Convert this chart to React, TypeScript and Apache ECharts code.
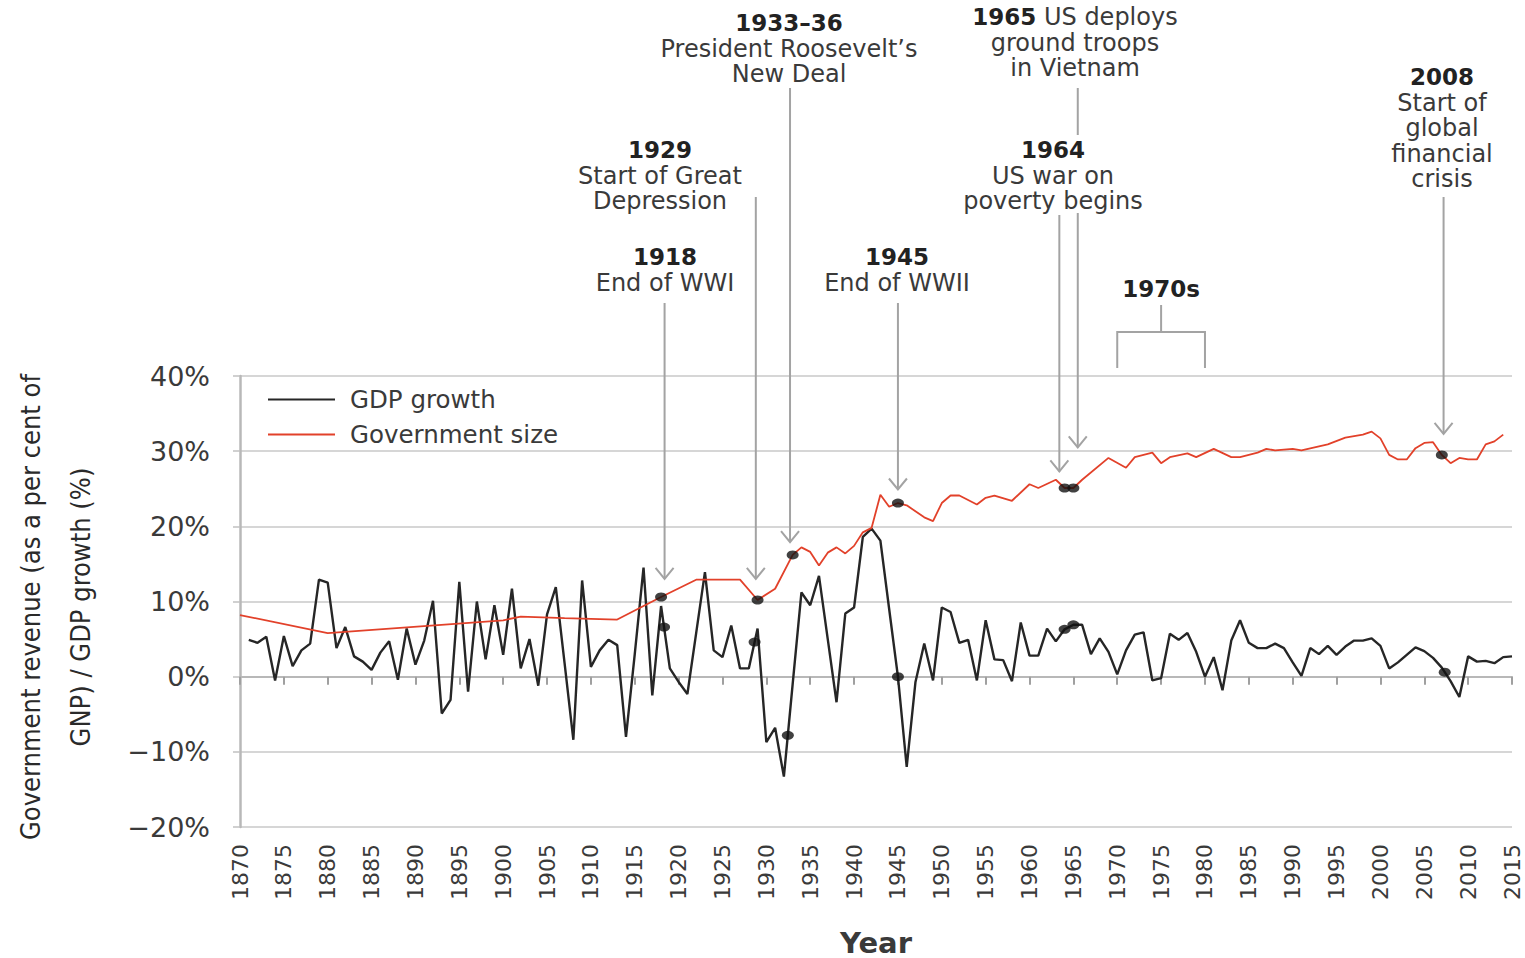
import React, { useEffect, useRef } from 'react';
import * as echarts from 'echarts';

// ---------- data ----------
const gdpYears: number[] = Array.from({ length: 145 }, (_, i) => 1871 + i);
const gdpGrowth: number[] = [
  4.9, 4.5, 5.3, -0.5, 5.4, 1.4, 3.5, 4.4, 12.9, 12.5,
  3.8, 6.6, 2.7, 2.0, 0.9, 3.2, 4.7, -0.4, 6.4, 1.6,
  4.8, 10.1, -4.9, -3.1, 12.6, -2.0, 10.0, 2.3, 9.5, 2.9,
  11.7, 1.1, 5.0, -1.2, 8.3, 11.9, 1.8, -8.4, 12.8, 1.3,
  3.5, 4.9, 4.2, -8.0, 3.0, 14.5, -2.5, 9.4, 1.1, -0.7,
  -2.3, 5.8, 13.9, 3.5, 2.6, 6.8, 1.1, 1.1, 6.4, -8.7,
  -6.8, -13.3, -1.0, 11.2, 9.5, 13.4, 5.0, -3.4, 8.4, 9.2,
  18.6, 19.7, 18.1, 9.0, 0.0, -12.0, -0.7, 4.4, -0.5, 9.2,
  8.6, 4.5, 4.9, -0.5, 7.5, 2.3, 2.2, -0.6, 7.2, 2.8,
  2.8, 6.4, 4.7, 6.3, 6.9, 6.9, 3.0, 5.1, 3.3, 0.3,
  3.5, 5.6, 5.9, -0.5, -0.2, 5.7, 4.9, 5.8, 3.3, 0.0,
  2.6, -1.8, 4.8, 7.5, 4.5, 3.8, 3.8, 4.4, 3.8, 1.9,
  0.1, 3.8, 3.0, 4.1, 2.9, 4.0, 4.8, 4.8, 5.1, 4.1,
  1.1, 1.9, 2.9, 3.9, 3.4, 2.5, 1.2, -0.6, -2.7, 2.7,
  2.0, 2.1, 1.8, 2.6, 2.7,
];

const govYears: number[] = [
  1870, 1880, 1900, 1902, 1907, 1913, 1918, 1922, 1927, 1929, 1931,
  1933, 1934, 1935, 1936, 1937, 1938, 1939, 1940, 1941, 1942, 1943,
  1944, 1945, 1946, 1948, 1949, 1950, 1951, 1952, 1954, 1955, 1956,
  1958, 1960, 1961, 1963, 1964, 1965, 1966, 1969, 1971, 1972, 1974,
  1975, 1976, 1978, 1979, 1981, 1983, 1984, 1986, 1987, 1988, 1990,
  1991, 1994, 1996, 1998, 1999, 2000, 2001, 2002, 2003, 2004, 2005,
  2006, 2007, 2008, 2009, 2010, 2011, 2012, 2013, 2014,
];
const govSize: number[] = [
  8.2, 5.8, 7.5, 8.0, 7.8, 7.6, 10.6, 12.9, 12.9, 10.2, 11.7,
  16.2, 17.2, 16.6, 14.8, 16.5, 17.2, 16.4, 17.4, 19.2, 19.8, 24.2,
  22.6, 23.1, 22.8, 21.2, 20.7, 23.1, 24.1, 24.1, 22.9, 23.8, 24.1,
  23.4, 25.6, 25.1, 26.2, 25.1, 25.1, 26.2, 29.1, 27.8, 29.2, 29.8,
  28.4, 29.2, 29.7, 29.2, 30.3, 29.2, 29.2, 29.8, 30.3, 30.1, 30.3,
  30.1, 30.9, 31.8, 32.2, 32.6, 31.7, 29.5, 28.9, 28.9, 30.4, 31.1,
  31.2, 29.5, 28.4, 29.1, 28.9, 28.9, 30.9, 31.3, 32.2,
];

const gdpMarkYears: number[] = [1918.34, 1928.66, 1932.45, 1945, 1964, 1965, 2007.33];
const gdpMarkValues: number[] = [6.6, 4.6, -7.8, 0.0, 6.3, 6.9, 0.6];
const govMarkYears: number[] = [1918, 1929, 1933, 1945, 1964, 1965, 2007];
const govMarkValues: number[] = [10.6, 10.2, 16.2, 23.1, 25.1, 25.1, 29.5];

const xMin = 1870;
const xMax = 2015;
const xStep = 5;
const yMin = -20;
const yMax = 40;
const yStep = 10;

const seriesNames = ['GDP growth', 'Government size'];
const yAxisTitle = ['Government revenue (as a per cent of', 'GNP) / GDP growth (%)'];
const xAxisTitle = 'Year';

// annotation texts (first line bold via rich text)
const annotations = [
  { lines: ['{b|1933–36}', 'President Roosevelt’s', 'New Deal'], x: 789, y: 23 },
  { lines: ['{b|1965} US deploys', 'ground troops', 'in Vietnam'], x: 1075, y: 17 },
  { lines: ['{b|2008}', 'Start of', 'global', 'financial', 'crisis'], x: 1442, y: 77 },
  { lines: ['{b|1929}', 'Start of Great', 'Depression'], x: 660, y: 150 },
  { lines: ['{b|1964}', 'US war on', 'poverty begins'], x: 1053, y: 150 },
  { lines: ['{b|1918}', 'End of WWI'], x: 665, y: 257 },
  { lines: ['{b|1945}', 'End of WWII'], x: 897, y: 257 },
  { lines: ['{b|1970s}'], x: 1161, y: 289 },
];
// arrows: x in years, start in px, tip as a chart value
const arrows = [
  { year: 1918.4, from: 303, tip: 13.0 },
  { year: 1928.8, from: 197, tip: 13.0 },
  { year: 1932.7, from: 88, tip: 17.9 },
  { year: 1945.0, from: 303, tip: 24.9 },
  { year: 1963.4, from: 215, tip: 27.3 },
  { year: 1965.5, from: 213, tip: 30.5 },
  { year: 2007.2, from: 197, tip: 32.3 },
];
const plainSegments = [{ year: 1965.5, from: 88, to: 135 }];
const bracketYears = [1970, 1975, 1980];

const FONT = "'DejaVu Sans', 'Open Sans', sans-serif";
const TEXT = '#3a3a3a';
const GREY = '#a3a3a3';

export default function App() {
  const ref = useRef<HTMLDivElement>(null);

  useEffect(() => {
    if (!ref.current) return;
    const chart = echarts.init(ref.current, null, { renderer: 'svg' });

    const option: any = {
      animation: false,
      backgroundColor: '#ffffff',
      textStyle: { fontFamily: FONT },
      grid: { left: 240, right: 13, top: 376, bottom: 129, containLabel: false },
      legend: {
        data: seriesNames,
        orient: 'vertical',
        left: 268,
        top: 387,
        padding: 0,
        icon: 'rect',
        itemWidth: 67,
        itemHeight: 2,
        itemGap: 10,
        textStyle: { fontSize: 24.5, color: TEXT, fontFamily: FONT, padding: [0, 0, 0, 10] },
      },
      xAxis: {
        type: 'value',
        min: xMin,
        max: xMax,
        interval: xStep,
        name: xAxisTitle,
        nameLocation: 'middle',
        nameGap: 101,
        nameTextStyle: { fontSize: 29, fontWeight: 'bold', color: TEXT, fontFamily: FONT },
        axisLine: { show: true, lineStyle: { color: '#b8b8b8', width: 2 } },
        axisTick: { show: true, length: 8, lineStyle: { color: '#a0a0a0', width: 2 } },
        axisLabel: {
          rotate: 90,
          margin: 17,
          fontSize: 22,
          color: TEXT,
          fontFamily: FONT,
          formatter: (v: number) => String(v),
        },
        splitLine: { show: false },
      },
      yAxis: {
        type: 'value',
        min: yMin,
        max: yMax,
        interval: yStep,
        axisLine: { show: true, lineStyle: { color: '#b8b8b8', width: 2.5 } },
        axisTick: { show: true, length: 7, lineStyle: { color: '#c0c0c0', width: 1.5 } },
        axisLabel: {
          margin: 30,
          fontSize: 27,
          color: TEXT,
          fontFamily: FONT,
          formatter: (v: number) => (v < 0 ? '\u2212' : '') + Math.abs(v) + '%',
        },
        splitLine: { show: true, lineStyle: { color: '#c8c8c8', width: 1.5 } },
      },
      series: [
        {
          name: seriesNames[0],
          type: 'line',
          data: gdpYears.map((y, i) => [y, gdpGrowth[i]]),
          symbol: 'none',
          lineStyle: { color: '#262626', width: 2.4 },
          itemStyle: { color: '#262626' },
          z: 3,
        },
        {
          name: seriesNames[1],
          type: 'line',
          data: govYears.map((y, i) => [y, govSize[i]]),
          symbol: 'none',
          lineStyle: { color: '#e2412a', width: 1.8 },
          itemStyle: { color: '#e2412a' },
          z: 4,
        },
        {
          name: 'gdp-events',
          type: 'scatter',
          data: gdpMarkYears.map((y, i) => [y, gdpMarkValues[i]]),
          symbol: 'circle',
          symbolSize: [12, 9],
          itemStyle: { color: '#111' },
          z: 6,
        },
        {
          name: 'gov-events',
          type: 'scatter',
          data: govMarkYears.map((y, i) => [y, govMarkValues[i]]),
          symbol: 'circle',
          symbolSize: [12, 9],
          itemStyle: { color: '#111' },
          z: 6,
        },
      ],
    };
    chart.setOption(option);

    const px = (yr: number, v: number) => chart.convertToPixel({ gridIndex: 0 } as any, [yr, v]) as number[];
    const graphics: any[] = [];

    // y axis title (two rotated lines)
    yAxisTitle.forEach((t, i) => {
      graphics.push({
        type: 'text',
        x: 30 + i * 50,
        y: 607,
        rotation: Math.PI / 2,
        silent: true,
        style: {
          text: t,
          fill: '#2a2a2a',
          fontSize: 27,
          fontWeight: 500,
          fontFamily: "'DejaVu Sans Condensed', Roboto, sans-serif",
          align: 'center',
          verticalAlign: 'middle',
          textAlign: 'center',
          textVerticalAlign: 'middle',
        },
      });
    });

    // annotation texts
    annotations.forEach((a) => {
      a.lines.forEach((ln, i) => {
        graphics.push({
          type: 'text',
          x: a.x,
          y: a.y + i * 25.5,
          silent: true,
          style: {
            text: ln,
            fill: TEXT,
            fontSize: 24,
            fontFamily: FONT,
            align: 'center',
            verticalAlign: 'middle',
            textAlign: 'center',
            textVerticalAlign: 'middle',
            rich: {
              b: { fontWeight: 'bold', fontSize: 23, fontFamily: FONT, fill: '#222' },
            },
          },
        });
      });
    });

    // arrows
    arrows.forEach((a) => {
      const [x, tipY] = px(a.year, a.tip);
      graphics.push({
        type: 'line',
        silent: true,
        shape: { x1: x, y1: a.from, x2: x, y2: tipY },
        style: { stroke: GREY, lineWidth: 2 },
      });
      graphics.push({
        type: 'polyline',
        silent: true,
        shape: { points: [[x - 9, tipY - 11], [x, tipY], [x + 9, tipY - 11]] },
        style: { stroke: GREY, lineWidth: 2, fill: null },
      });
    });
    plainSegments.forEach((s) => {
      const [x] = px(s.year, 0);
      graphics.push({
        type: 'line',
        silent: true,
        shape: { x1: x, y1: s.from, x2: x, y2: s.to },
        style: { stroke: GREY, lineWidth: 2 },
      });
    });

    // 1970s bracket
    const [bx0] = px(bracketYears[0], 0);
    const [bxm] = px(bracketYears[1], 0);
    const [bx1] = px(bracketYears[2], 0);
    graphics.push({
      type: 'polyline',
      silent: true,
      shape: { points: [[bx0, 368], [bx0, 332], [bx1, 332], [bx1, 368]] },
      style: { stroke: GREY, lineWidth: 2, fill: null },
    });
    graphics.push({
      type: 'line',
      silent: true,
      shape: { x1: bxm, y1: 305, x2: bxm, y2: 332 },
      style: { stroke: GREY, lineWidth: 2 },
    });

    chart.setOption({ graphic: { elements: graphics } });

    return () => chart.dispose();
  }, []);

  return (
    <div
      ref={ref}
      style={{ position: 'absolute', left: 0, top: 0, width: 1525, height: 958, background: '#fff' }}
    />
  );
}
